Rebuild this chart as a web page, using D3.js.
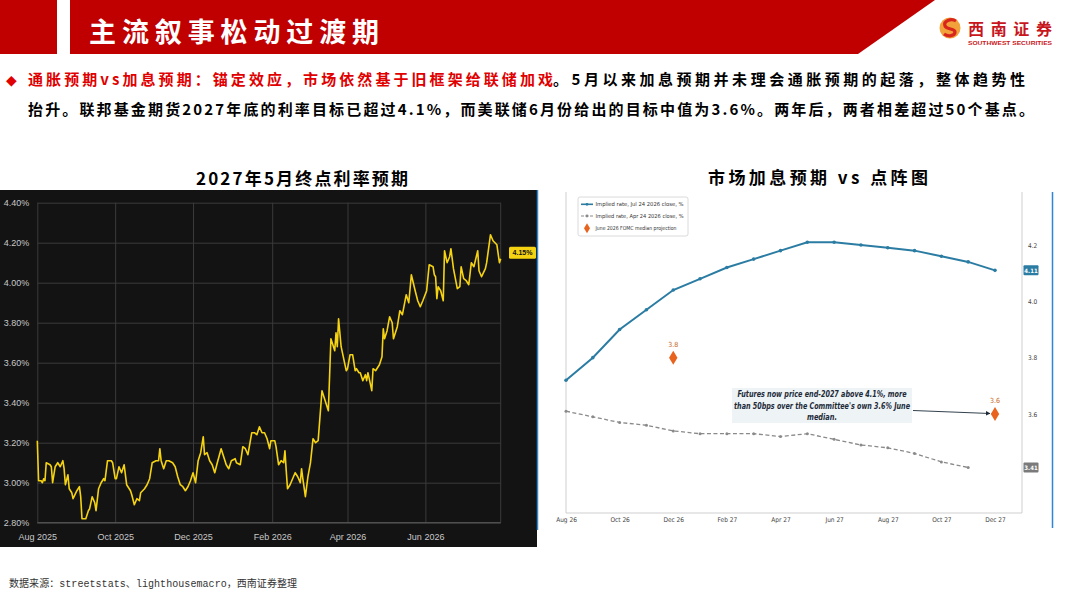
<!DOCTYPE html>
<html>
<head>
<meta charset="utf-8">
<script src="https://cdn.jsdelivr.net/npm/d3@7"></script>
<style>
  body { margin: 0; background: #fff; }
  svg { display: block; }
</style>
</head>
<body>
<div id="page"></div>
<script>
// ---- data ----

// left chart: 2027 May terminal rate expectation (days after 2025-08-01, % level)
var termDays = [0,1,3,4,5,6,7,10,11,12,14,16,18,20,21,22,24,25,27,28,
  31,33,34,35,38,40,41,43,45,46,48,50,52,53,55,58,59,61,62,64,
  66,68,70,73,74,76,78,80,81,84,86,88,90,93,95,96,97,99,101,103,
  106,108,110,112,114,116,118,120,122,124,126,128,130,131,133,135,137,139,141,144,
  146,148,150,152,155,156,159,161,163,165,168,170,172,174,176,178,180,182,183,186,
  187,189,191,193,194,195,196,198,200,202,204,206,207,208,210,212,214,216,218,220,
  223,225,228,230,233,234,235,236,238,240,242,243,245,247,249,250,252,253,255,257,
  258,259,262,263,265,268,270,271,272,274,276,278,279,282,284,286,289,291,293,296,
  298,300,302,305,307,310,311,312,313,314,316,318,319,321,323,324,326,329,331,332,
  334,336,338,340,342,345,346,348,351,352,355,357,360,362,363];
var termRates = [3.21,3.01,3.01,3.00,3.02,3.01,3.10,3.09,3.08,3.00,3.08,3.10,3.08,3.11,3.07,2.99,3.04,2.97,2.95,2.92,
  2.96,2.98,2.93,2.82,2.82,2.86,2.87,2.93,2.90,2.86,2.97,3.00,3.02,3.01,3.11,3.11,3.10,3.02,3.02,3.08,
  3.05,3.09,2.99,2.96,2.94,2.89,2.92,2.91,2.95,2.97,2.99,3.02,3.10,3.11,3.11,3.17,3.11,3.07,3.11,3.11,
  3.10,3.08,3.03,2.99,2.98,2.96,2.98,3.01,3.05,3.00,3.11,3.15,3.23,3.14,3.15,3.11,3.09,3.05,3.10,3.17,
  3.13,3.09,3.07,3.11,3.12,3.10,3.09,3.18,3.17,3.14,3.25,3.25,3.24,3.28,3.25,3.25,3.22,3.17,3.21,3.21,
  3.18,3.09,3.11,3.10,3.16,3.06,2.97,2.99,3.02,3.05,3.03,3.00,3.07,3.02,2.93,3.03,3.10,3.22,3.20,3.21,
  3.46,3.42,3.36,3.72,3.66,3.75,3.68,3.82,3.68,3.62,3.56,3.57,3.64,3.64,3.56,3.57,3.55,3.55,3.51,3.54,
  3.51,3.55,3.46,3.57,3.56,3.59,3.63,3.77,3.72,3.76,3.83,3.80,3.72,3.78,3.86,3.84,3.94,3.90,4.04,3.96,
  3.91,3.88,3.91,3.96,4.09,4.08,4.04,4.03,3.92,3.98,3.96,3.91,4.16,4.10,4.13,4.17,4.07,3.97,3.98,4.08,
  4.02,4.01,3.99,4.10,4.08,4.16,4.06,4.03,4.07,4.10,4.24,4.21,4.19,4.10,4.12];
var termStart = "2025-08-01";
var termEnd = "2026-07-30";
var termTicks = ["2025-08-01", "2025-10-01", "2025-12-01", "2026-02-01", "2026-04-01", "2026-06-01"];
var termYTicks = [2.8, 3.0, 3.2, 3.4, 3.6, 3.8, 4.0, 4.2, 4.4];
var termLast = 4.15;

// right chart: implied path vs dot plot
var months = ["Aug 26","Sep 26","Oct 26","Nov 26","Dec 26","Jan 27","Feb 27","Mar 27","Apr 27",
  "May 27","Jun 27","Jul 27","Aug 27","Sep 27","Oct 27","Nov 27","Dec 27"];
var monthTicks = ["Aug 26","Oct 26","Dec 26","Feb 27","Apr 27","Jun 27","Aug 27","Oct 27","Dec 27"];
var impliedJul = [3.72,3.80,3.90,3.97,4.04,4.08,4.12,4.15,4.18,4.21,4.21,4.20,4.19,4.18,4.16,4.14,4.11];
var impliedApr = [3.61,3.59,3.57,3.56,3.54,3.53,3.53,3.53,3.52,3.53,3.51,3.49,3.48,3.46,3.43,3.41];
var fomcMonths = ["Dec 26", "Dec 27"];
var fomcValues = [3.8, 3.6];
var pathYTicks = [3.6, 3.8, 4.0, 4.2];
var legendItems = ["Implied rate, Jul 24 2026 close, %", "Implied rate, Apr 24 2026 close, %", "June 2026 FOMC median projection"];
var noteLines = ["Futures now price end-2027 above 4.1%, more", "than 50bps over the Committee's own 3.6% June", "median."];

var svgWidth = 1067;
var svgHeight = 600;
var cjk = "'Noto Sans CJK SC', 'Noto Sans', sans-serif";

var svg = d3.select("#page")
  .append("svg")
  .attr("width", svgWidth)
  .attr("height", svgHeight);

// ---- header ----
svg.append("rect").attr("x", 0).attr("y", 0).attr("width", 57).attr("height", 54).attr("fill", "#c00000");
svg.append("path").attr("d", "M70,0L935,0L858,54L70,54Z").attr("fill", "#c00000");
svg.append("text")
  .attr("x", 89).attr("y", 42)
  .attr("font-family", cjk).attr("font-weight", 700).attr("font-size", 27)
  .attr("textLength", 290).attr("lengthAdjust", "spacing")
  .attr("fill", "#fff")
  .text("主流叙事松动过渡期");

// logo
var logo = svg.append("g").attr("transform", "translate(950,28)");
logo.append("circle").attr("r", 10.5).attr("fill", "#f2a23a");
logo.append("path")
  .attr("d", "M6,-7C1,-10 -7,-7 -5,-2C-3,2 5,0 5,4C5,8 -2,9 -6,6")
  .attr("fill", "none").attr("stroke", "#d8261c").attr("stroke-width", 3.2);
svg.append("text")
  .attr("x", 968).attr("y", 35)
  .attr("font-family", cjk).attr("font-weight", 700).attr("font-size", 16)
  .attr("textLength", 84).attr("lengthAdjust", "spacing")
  .attr("fill", "#c8161d").text("西南证券");
svg.append("text")
  .attr("x", 968).attr("y", 44.5)
  .attr("font-family", "'Liberation Sans', Arial, sans-serif").attr("font-weight", 700).attr("font-size", 5.6)
  .attr("textLength", 84).attr("lengthAdjust", "spacingAndGlyphs")
  .attr("fill", "#c8161d").text("SOUTHWEST SECURITIES");

// ---- summary paragraph ----
function para(x, y, len, str, color) {
  svg.append("text")
    .attr("x", x).attr("y", y)
    .attr("font-family", cjk).attr("font-weight", 700).attr("font-size", 15)
    .attr("textLength", len).attr("lengthAdjust", "spacing")
    .attr("fill", color)
    .text(str);
}
svg.append("text")
  .attr("x", 6).attr("y", 85)
  .attr("font-family", "'DejaVu Sans', sans-serif").attr("font-size", 14)
  .attr("fill", "#e00000").text("◆");
para(28, 85, 525, "通胀预期vs加息预期：锚定效应，市场依然基于旧框架给联储加戏", "#e00000");
para(553, 85, 472, "。5月以来加息预期并未理会通胀预期的起落，整体趋势性", "#000");
para(28, 115, 1006, "抬升。联邦基金期货2027年底的利率目标已超过4.1%，而美联储6月份给出的目标中值为3.6%。两年后，两者相差超过50个基点。", "#000");

// chart titles
svg.append("text")
  .attr("x", 196).attr("y", 185)
  .attr("font-family", cjk).attr("font-weight", 700).attr("font-size", 17)
  .attr("textLength", 212).attr("lengthAdjust", "spacing")
  .text("2027年5月终点利率预期");
svg.append("text")
  .attr("x", 708).attr("y", 184)
  .attr("font-family", cjk).attr("font-weight", 700).attr("font-size", 17)
  .attr("textLength", 220).attr("lengthAdjust", "spacing")
  .text("市场加息预期 vs 点阵图");

// ---- left chart (dark) ----
var parseDay = d3.timeParse("%Y-%m-%d");
var t0 = parseDay(termStart);
var termData = termDays.map(function(d, i) {
  return { date: d3.timeDay.offset(t0, d), rate: termRates[i] };
});

svg.append("rect").attr("x", 0).attr("y", 190).attr("width", 537).attr("height", 357).attr("fill", "#131313");

var xTerm = d3.scaleTime()
  .domain([t0, parseDay(termEnd)])
  .range([37.3, 500.7]);
var yTerm = d3.scaleLinear()
  .domain([2.8, 4.4])
  .range([522.7, 202.7]);

var dark = svg.append("g").attr("font-family", "'Liberation Sans', Arial, sans-serif");

var xTermAxis = dark.append("g")
  .attr("transform", "translate(0,522.7)")
  .call(d3.axisBottom(xTerm)
    .tickValues(termTicks.map(parseDay))
    .tickSize(-320)
    .tickPadding(11)
    .tickFormat(d3.timeFormat("%b %Y")));
var yTermAxis = dark.append("g")
  .attr("transform", "translate(37.3,0)")
  .call(d3.axisLeft(yTerm)
    .tickValues(termYTicks)
    .tickSize(-463.4)
    .tickPadding(8)
    .tickFormat(d3.format(".2f")));
yTermAxis.selectAll(".tick text").text(function(d) { return d3.format(".2f")(d) + "%"; });

[xTermAxis, yTermAxis].forEach(function(a) {
  a.select(".domain").remove();
  a.selectAll(".tick line").attr("stroke", "#3b3b3b");
  a.selectAll(".tick text").attr("fill", "#c8c8c8").attr("font-size", 9);
});
// right edge and baseline
dark.append("line").attr("x1", 500.7).attr("x2", 500.7).attr("y1", 202.7).attr("y2", 522.7).attr("stroke", "#3b3b3b");
dark.append("line").attr("x1", 37.3).attr("x2", 500.7).attr("y1", 522.7).attr("y2", 522.7).attr("stroke", "#5a5a5a");

dark.append("path")
  .datum(termData)
  .attr("fill", "none")
  .attr("stroke", "#f5d312")
  .attr("stroke-width", 1.6)
  .attr("stroke-linejoin", "round")
  .attr("d", d3.line().x(d => xTerm(d.date)).y(d => yTerm(d.rate)));

dark.append("rect")
  .attr("x", 509).attr("y", yTerm(termLast) - 6)
  .attr("width", 27).attr("height", 12).attr("rx", 1.5)
  .attr("fill", "#f5d312");
dark.append("text")
  .attr("x", 522.5).attr("y", yTerm(termLast) + 2.5)
  .attr("text-anchor", "middle").attr("font-size", 7).attr("font-weight", 700)
  .attr("fill", "#111").text(d3.format(".2f")(termLast) + "%");

// blue frame lines
svg.append("line").attr("x1", 537.5).attr("x2", 537.5).attr("y1", 190).attr("y2", 530).attr("stroke", "#2f86d6").attr("stroke-width", 1.5);
svg.append("line").attr("x1", 1052.5).attr("x2", 1052.5).attr("y1", 192).attr("y2", 528).attr("stroke", "#2f86d6").attr("stroke-width", 1.5);

// ---- right chart (implied path) ----
var xPath = d3.scalePoint()
  .domain(months)
  .range([566, 995]);
var yPath = d3.scaleLinear()
  .domain([3.6, 4.2])
  .range([414, 245]);

var blue = "#2b7ca3";
var grey = "#8a8a8a";
var orange = "#e8631d";

var path = svg.append("g").attr("font-family", "'DejaVu Sans Condensed', 'DejaVu Sans', sans-serif");

// frame
path.append("line").attr("x1", 566).attr("x2", 566).attr("y1", 192).attr("y2", 513).attr("stroke", "#cfcfcf");
path.append("line").attr("x1", 1022).attr("x2", 1022).attr("y1", 192).attr("y2", 513).attr("stroke", "#cfcfcf");
path.append("line").attr("x1", 566).attr("x2", 1022).attr("y1", 513).attr("y2", 513).attr("stroke", "#cfcfcf");

var xPathAxis = path.append("g")
  .attr("transform", "translate(0,513)")
  .call(d3.axisBottom(xPath).tickValues(monthTicks).tickSize(0).tickPadding(4));
var yPathAxis = path.append("g")
  .attr("transform", "translate(1022,0)")
  .call(d3.axisRight(yPath).tickValues(pathYTicks).tickSize(0).tickPadding(6).tickFormat(d3.format(".1f")));
[xPathAxis, yPathAxis].forEach(function(a) {
  a.select(".domain").remove();
  a.selectAll(".tick text").attr("fill", "#444").attr("font-size", 6.5).attr("font-family", "'DejaVu Sans Condensed', 'DejaVu Sans', sans-serif");
});

// series
var aprData = impliedApr.map(function(v, i) { return { m: months[i], v: v }; });
var julData = impliedJul.map(function(v, i) { return { m: months[i], v: v }; });
var pathLine = d3.line().x(d => xPath(d.m)).y(d => yPath(d.v));

path.append("path").datum(aprData)
  .attr("fill", "none").attr("stroke", grey).attr("stroke-width", 1.3)
  .attr("stroke-dasharray", "4,2.5").attr("d", pathLine);
path.append("g").selectAll("circle").data(aprData).enter().append("circle")
  .attr("cx", d => xPath(d.m)).attr("cy", d => yPath(d.v)).attr("r", 1.5).attr("fill", grey);

path.append("path").datum(julData)
  .attr("fill", "none").attr("stroke", blue).attr("stroke-width", 2).attr("d", pathLine);
path.append("g").selectAll("circle").data(julData).enter().append("circle")
  .attr("cx", d => xPath(d.m)).attr("cy", d => yPath(d.v)).attr("r", 1.8).attr("fill", blue);

// dot plot medians
var diamond = "M0,-7L4.2,0L0,7L-4.2,0Z";
fomcMonths.forEach(function(m, i) {
  path.append("path")
    .attr("transform", `translate(${xPath(m)},${yPath(fomcValues[i])})`)
    .attr("d", diamond).attr("fill", orange);
  path.append("text")
    .attr("x", xPath(m)).attr("y", yPath(fomcValues[i]) - 11)
    .attr("text-anchor", "middle").attr("font-size", 7)
    .attr("fill", "#c8692a").text(d3.format(".1f")(fomcValues[i]));
});

// end-value badges
function badge(val, color) {
  path.append("rect").attr("x", 1023.5).attr("y", yPath(val) - 5).attr("width", 15).attr("height", 10).attr("rx", 1).attr("fill", color);
  path.append("text").attr("x", 1031).attr("y", yPath(val) + 2.2)
    .attr("text-anchor", "middle").attr("font-size", 6).attr("font-weight", 700)
    .attr("fill", "#fff").text(d3.format(".2f")(val));
}
badge(impliedJul[impliedJul.length - 1], blue);
badge(impliedApr[impliedApr.length - 1], "#7a7a7a");

// annotation
path.append("rect").attr("x", 732).attr("y", 388).attr("width", 180).attr("height", 35).attr("fill", "#eef3f5");
path.append("g").selectAll("text").data(noteLines).enter().append("text")
  .attr("x", 822).attr("y", (d, i) => 397.3 + i * 11.2)
  .attr("text-anchor", "middle")
  .attr("font-size", 8).attr("font-weight", 700).attr("font-style", "italic")
  .attr("fill", "#1d2b3a")
  .attr("textLength", (d, i) => [169, 176, 30][i]).attr("lengthAdjust", "spacingAndGlyphs")
  .text(d => d);

svg.append("defs").append("marker")
  .attr("id", "arrow").attr("viewBox", "0 0 10 10").attr("refX", 9).attr("refY", 5)
  .attr("markerWidth", 5).attr("markerHeight", 5).attr("orient", "auto")
  .append("path").attr("d", "M0,0L10,5L0,10Z").attr("fill", "#1d2b3a");
path.append("line")
  .attr("x1", 913).attr("y1", 410.5)
  .attr("x2", xPath("Dec 27") - 5).attr("y2", yPath(3.6) - 0.5)
  .attr("stroke", "#1d2b3a").attr("stroke-width", 0.9)
  .attr("marker-end", "url(#arrow)");

// legend
var legend = path.append("g");
legend.append("rect").attr("x", 578).attr("y", 197).attr("width", 110).attr("height", 39).attr("rx", 2)
  .attr("fill", "#fff").attr("stroke", "#d0d0d0").attr("stroke-width", 0.8);
var legendY = [204.3, 216, 228.3];
legendItems.forEach(function(label, i) {
  var y = legendY[i];
  if (i < 2) {
    var col = i === 0 ? blue : grey;
    legend.append("line").attr("x1", 581).attr("x2", 593).attr("y1", y).attr("y2", y)
      .attr("stroke", col).attr("stroke-width", i === 0 ? 1.6 : 1.1)
      .attr("stroke-dasharray", i === 0 ? null : "3,1.5");
    legend.append("circle").attr("cx", 587).attr("cy", y).attr("r", 1.4).attr("fill", col);
  } else {
    legend.append("path").attr("transform", `translate(587,${y})`)
      .attr("d", "M0,-5L3,0L0,5L-3,0Z").attr("fill", orange);
  }
  legend.append("text").attr("x", 595.5).attr("y", y + 2)
    .attr("font-size", 5.5).attr("fill", "#333")
    .attr("textLength", [88, 88, 81][i]).attr("lengthAdjust", "spacingAndGlyphs")
    .text(label);
});

// ---- footer ----
svg.append("text")
  .attr("x", 9).attr("y", 587)
  .attr("font-family", "'Liberation Mono', 'Noto Sans CJK SC', monospace").attr("font-size", 10)
  .attr("fill", "#333")
  .attr("textLength", 288).attr("lengthAdjust", "spacing")
  .text("数据来源：streetstats、lighthousemacro，西南证券整理");
</script>
</body>
</html>
